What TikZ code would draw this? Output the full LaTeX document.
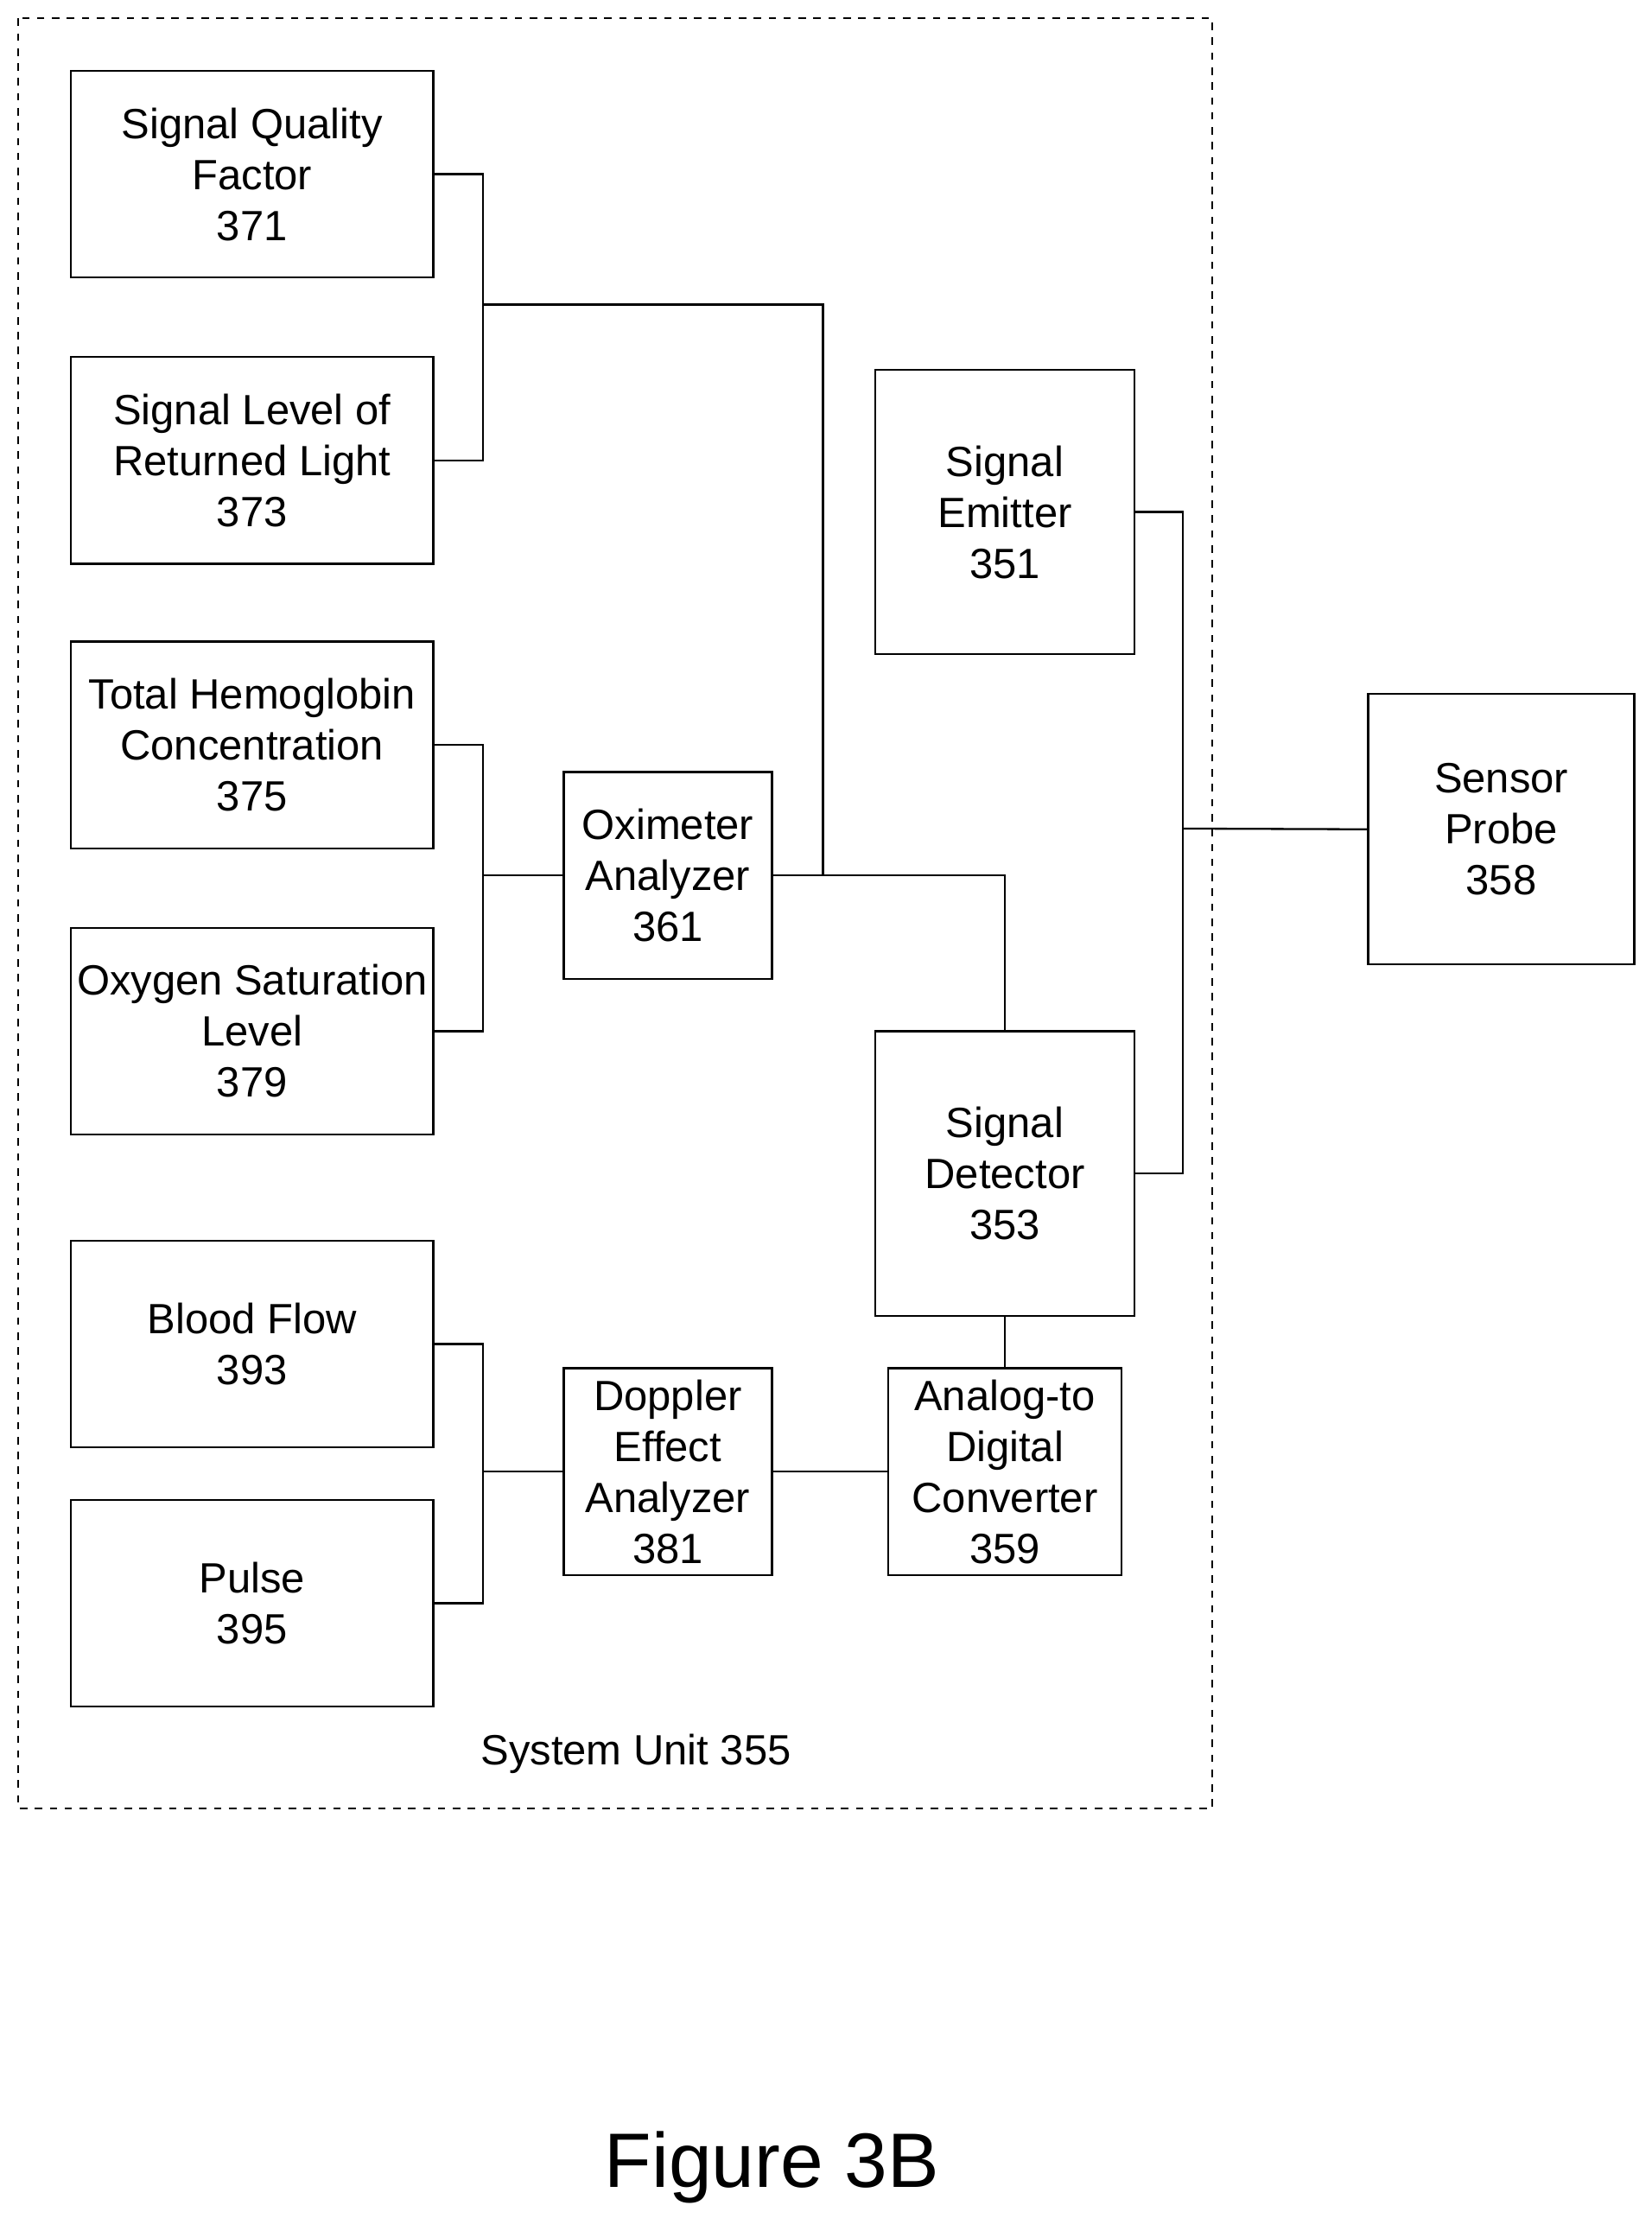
\documentclass[tikz,border=0pt]{standalone}
\usepackage{fontspec}
\setmainfont{Liberation Sans}
\usetikzlibrary{positioning, calc}
\tikzset{blk/.style={draw, thick, align=center, inner sep=0pt, font=\fontsize{17}{20.5}\selectfont},
	wire/.style={thick}}
\begin{document}
\begin{tikzpicture}[x=0.02cm, y=-0.02cm]
		\useasboundingbox (0,0) rectangle (1166,1566);
		\draw[thick, dashed] (13,13) rectangle (856,1277);
		%
		% boxes on the left
		\node[blk, minimum width=5.12cm, minimum height=2.92cm] (sqf) at (178,123) {Signal Quality\\Factor\\371};
		\node[blk, minimum width=5.12cm, minimum height=2.92cm] (srl) at (178,325) {Signal Level of\\Returned Light\\373};
		\node[blk, minimum width=5.12cm, minimum height=2.92cm] (thc) at (178,526) {Total Hemoglobin\\Concentration\\375};
		\node[blk, minimum width=5.12cm, minimum height=2.92cm] (osl) at (178,728) {Oxygen Saturation\\Level\\379};
		\node[blk, minimum width=5.12cm, minimum height=2.92cm] (bfl) at (178,949) {Blood Flow\\393};
		\node[blk, minimum width=5.12cm, minimum height=2.92cm] (pls) at (178,1132) {Pulse\\395};
		%
		% analyzers
		\node[blk, minimum width=2.94cm, minimum height=2.92cm] (oxa) at (471.5,618) {Oximeter\\Analyzer\\361};
		\node[blk, minimum width=2.94cm, minimum height=2.92cm] (dea) at (471.5,1039) {Doppler\\Effect\\Analyzer\\381};
		%
		\node[blk, minimum width=3.66cm, minimum height=4.02cm] (sem) at (709.5,361.5) {Signal\\Emitter\\351};
		\node[blk, minimum width=3.66cm, minimum height=4.02cm] (sdt) at (709.5,828.5) {Signal\\Detector\\353};
		\node[blk, minimum width=3.30cm, minimum height=2.92cm] (adc) at (709.5,1039) {Analog-to\\Digital\\Converter\\359};
		\node[blk, minimum width=3.76cm, minimum height=3.82cm] (spr) at (1060,585.5) {Sensor\\Probe\\358};
		%
		\node[font=\fontsize{17}{20.5}\selectfont] (sys) at (449,1238) {System Unit 355};
		\node[font=\fontsize{31}{36}\selectfont] (fig) at (545,1530) {Figure 3B};
		%
		% connectors
		\draw[wire] (sqf.east) -| (341,215) |- (srl.east);
		\draw[wire] (341,215) -| (581,618);
		\draw[wire] (thc.east) -| (341,618) |- (osl.east);
		\draw[wire] (341,618) -- (oxa.west);
		\draw[wire] (oxa.east) -| (sdt.north);
		\draw[wire] (sem.east) -| (835,585) |- (sdt.east);
		\draw[wire] (835,585) -- (spr.west);
		\draw[wire] (bfl.east) -| (341,1039) |- (pls.east);
		\draw[wire] (341,1039) -- (dea.west);
		\draw[wire] (dea.east) -- (adc.west);
		\draw[wire] (sdt.south) -- (adc.north);
	\end{tikzpicture}
\end{document}
